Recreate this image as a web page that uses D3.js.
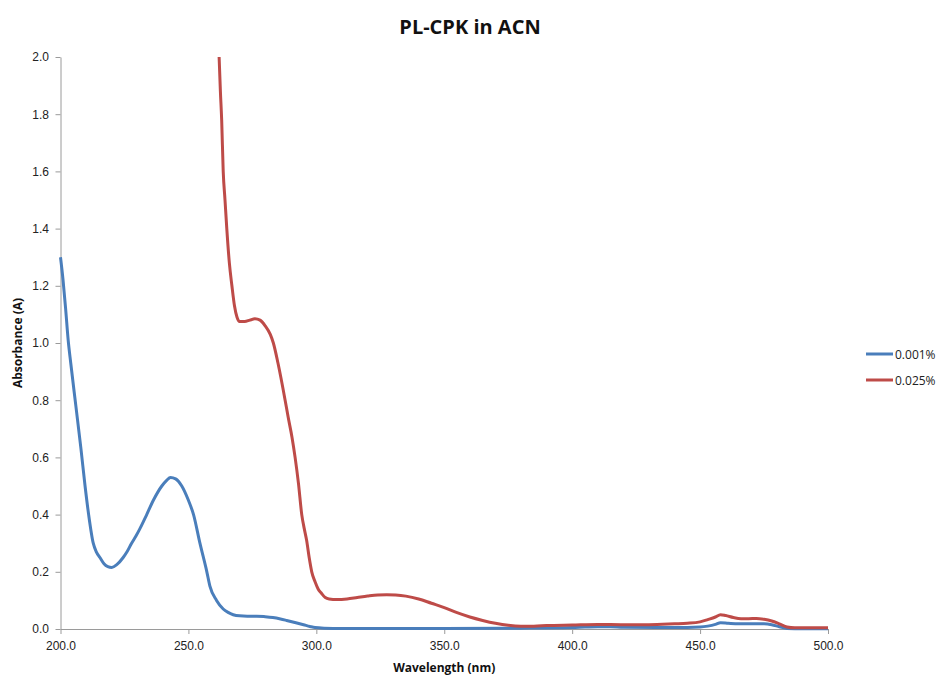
<!DOCTYPE html>
<html>
<head>
<meta charset="utf-8">
<script src="https://cdn.jsdelivr.net/npm/d3@7"></script>
<style>
  body { margin: 0; background: #fff; }
  svg { font-family: "Open Sans", "Liberation Sans", sans-serif; }
  .tick text { font-size: 12px; fill: #222; }
</style>
</head>
<body>
<svg id="chart" width="940" height="675"></svg>
<script>
// Spectra
const seriesNames = ["0.001%", "0.025%"];
const seriesColors = ["#4A7EBB", "#BE4B48"];

const blueWl = [200, 201, 202, 203, 204, 206, 208, 209.6, 211, 212.8, 214, 215.4, 217, 218.5, 220, 222, 224.5, 226, 227.8, 229.5, 231, 233.7, 236.3, 239.6, 241.5, 243, 245, 247.4, 250, 252, 254.5, 257.2, 258.4, 261, 263.6, 265.5, 267.5, 270, 273, 276.7, 280, 283, 286, 288.4, 292, 295, 297.5, 299.5, 303, 310, 330, 350, 380, 400, 405, 410, 415, 420, 440, 450, 453, 456, 458, 461, 465, 470, 475, 478, 481, 484, 490, 500];
const blueAbs = [1.30, 1.22, 1.12, 1.01, 0.93, 0.78, 0.63, 0.50, 0.40, 0.30, 0.27, 0.25, 0.228, 0.218, 0.215, 0.225, 0.25, 0.27, 0.30, 0.325, 0.35, 0.40, 0.45, 0.50, 0.52, 0.53, 0.525, 0.50, 0.45, 0.40, 0.30, 0.20, 0.15, 0.10, 0.07, 0.058, 0.05, 0.046, 0.045, 0.045, 0.043, 0.04, 0.035, 0.03, 0.022, 0.015, 0.009, 0.005, 0.003, 0.002, 0.002, 0.002, 0.003, 0.005, 0.007, 0.008, 0.008, 0.006, 0.005, 0.007, 0.01, 0.016, 0.022, 0.02, 0.018, 0.018, 0.018, 0.015, 0.008, 0.002, 0.001, 0.001];

const redWl = [262, 262.5, 263, 263.6, 264.3, 265, 266, 267, 268, 269, 270, 272, 274, 276, 278, 280, 282, 283.2, 285, 287.8, 289, 290.5, 291.7, 293, 294.3, 295.3, 296.2, 297.2, 298.2, 299.5, 300.7, 302, 303.5, 305, 308, 312, 316, 320, 324, 327.5, 331, 335, 340, 345, 350, 355, 360, 365, 370, 375, 380, 385, 390, 400, 410, 420, 430, 440, 445, 450, 453, 456, 458, 460, 463, 466, 469, 472, 475, 478, 481, 484, 487, 500];
const redAbs = [2.0, 1.88, 1.78, 1.60, 1.50, 1.40, 1.28, 1.20, 1.13, 1.09, 1.075, 1.075, 1.08, 1.085, 1.08, 1.06, 1.03, 1.0, 0.93, 0.80, 0.74, 0.67, 0.60, 0.51, 0.40, 0.35, 0.31, 0.25, 0.20, 0.165, 0.14, 0.125, 0.11, 0.105, 0.103, 0.105, 0.11, 0.115, 0.119, 0.12, 0.119, 0.115, 0.105, 0.09, 0.075, 0.057, 0.042, 0.03, 0.02, 0.013, 0.01, 0.01, 0.012, 0.014, 0.016, 0.015, 0.015, 0.018, 0.02, 0.025, 0.033, 0.042, 0.05, 0.047, 0.04, 0.036, 0.036, 0.037, 0.034, 0.028, 0.018, 0.007, 0.004, 0.004];

const xTicks = [200, 250, 300, 350, 400, 450, 500];
const yTicks = [0, 0.2, 0.4, 0.6, 0.8, 1.0, 1.2, 1.4, 1.6, 1.8, 2.0];

const svg = d3.select("#chart");
const plot = { left: 60.5, right: 828, top: 57, bottom: 629 };

const x = d3.scaleLinear().domain([200, 500]).range([plot.left, plot.right]);
const y = d3.scaleLinear().domain([0, 2]).range([plot.bottom, plot.top]);

// title
svg.append("text")
  .attr("x", 470).attr("y", 34)
  .attr("text-anchor", "middle")
  .attr("font-size", 20).attr("font-weight", "bold")
  .attr("fill", "#111")
  .text("PL-CPK in ACN");

// axes
const xAxis = svg.append("g")
  .attr("transform", `translate(0,${plot.bottom})`)
  .call(d3.axisBottom(x).tickValues(xTicks).tickSize(5).tickSizeOuter(0).tickFormat(d3.format(".1f")));
xAxis.selectAll("text").attr("dy", "1.1em");

const yAxis = svg.append("g")
  .attr("transform", `translate(${plot.left},0)`)
  .call(d3.axisLeft(y).tickValues(yTicks).tickSize(5).tickSizeOuter(0).tickFormat(d3.format(".1f")));
yAxis.selectAll("text").attr("dx", "-0.3em");

svg.selectAll(".domain, .tick line").attr("stroke", "#9a9a9a").attr("stroke-width", 1);

// axis titles
svg.append("text")
  .attr("x", (plot.left + plot.right) / 2).attr("y", 672)
  .attr("text-anchor", "middle")
  .attr("font-size", 12).attr("font-weight", "bold").attr("fill", "#111")
  .text("Wavelength (nm)");

svg.append("text")
  .attr("transform", `translate(22,${(plot.top + plot.bottom) / 2}) rotate(-90)`)
  .attr("text-anchor", "middle")
  .attr("font-size", 12).attr("font-weight", "bold").attr("fill", "#111")
  .text("Absorbance (A)");

// lines
const line = d3.line()
  .x(d => x(d[0]))
  .y(d => y(d[1]))
  .curve(d3.curveMonotoneX);

const series = [
  d3.zip(blueWl, blueAbs),
  d3.zip(redWl, redAbs)
];

series.forEach((pts, i) => {
  svg.append("path")
    .datum(pts)
    .attr("fill", "none")
    .attr("stroke", seriesColors[i])
    .attr("stroke-width", 3)
    .attr("stroke-linejoin", "round")
    .attr("d", line);
});

// legend
const legend = svg.append("g").attr("transform", "translate(866,354)");
seriesNames.forEach((name, i) => {
  const row = legend.append("g").attr("transform", `translate(0,${i * 26})`);
  row.append("line")
    .attr("x1", 0).attr("x2", 27)
    .attr("stroke", seriesColors[i]).attr("stroke-width", 3);
  row.append("text")
    .attr("x", 29).attr("y", 4.5)
    .attr("font-size", 12).attr("fill", "#222")
    .text(name);
});
</script>
</body>
</html>
